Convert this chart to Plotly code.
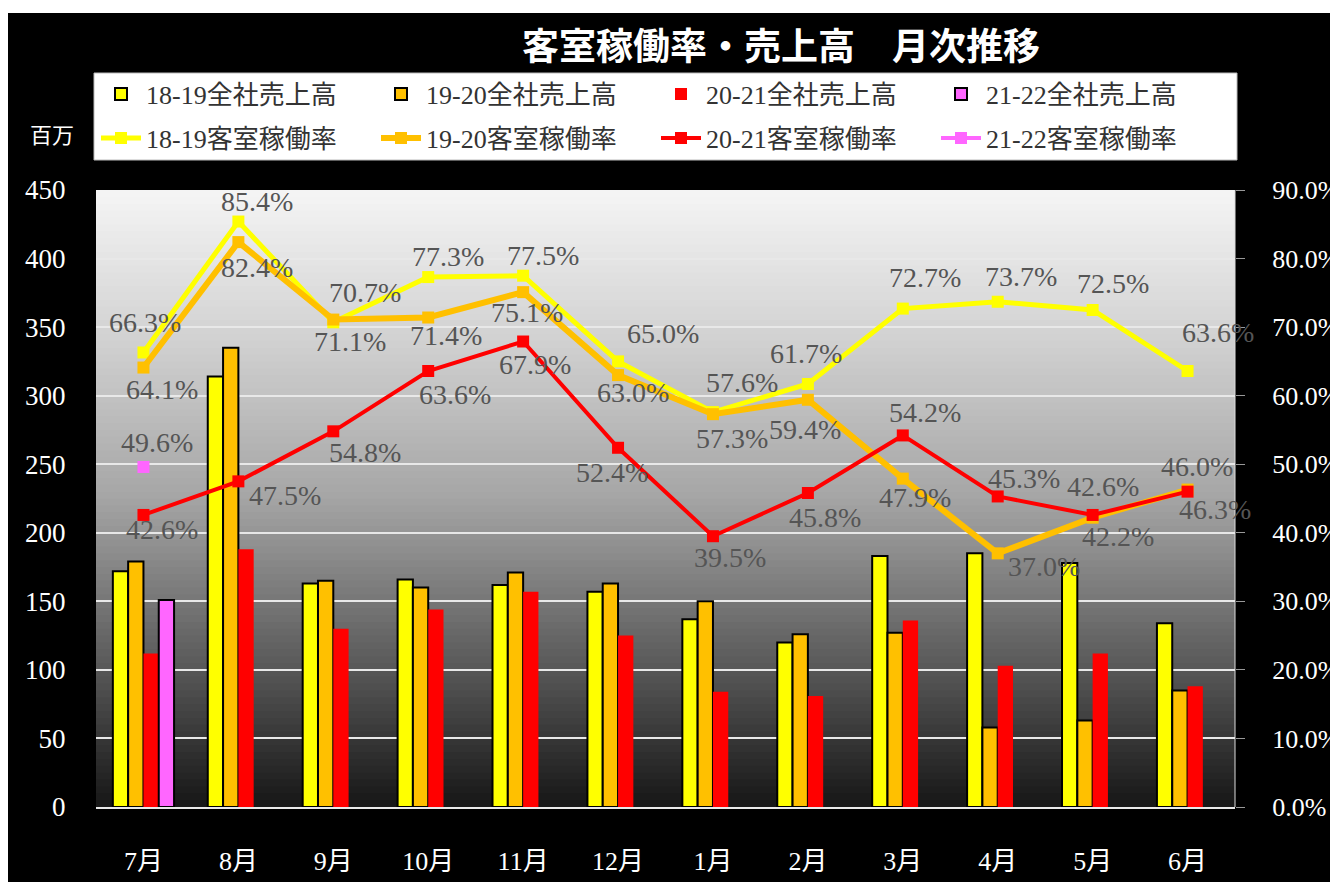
import plotly.graph_objects as go

months = ["7月", "8月", "9月", "10月", "11月", "12月", "1月", "2月", "3月", "4月", "5月", "6月"]

# 全社売上高 (百万)
sales_1819 = [172, 314, 163, 166, 162, 157, 137, 120, 183, 185, 178, 134]
sales_1920 = [179, 335, 165, 160, 171, 163, 150, 126, 127, 58, 63, 85]
sales_2021 = [112, 188, 130, 144, 157, 125, 84, 81, 136, 103, 112, 88]
sales_2122 = [151, None, None, None, None, None, None, None, None, None, None, None]

# 客室稼働率 (%)
occ_1819 = [66.3, 85.4, 70.7, 77.3, 77.5, 65.0, 57.6, 61.7, 72.7, 73.7, 72.5, 63.6]
occ_1920 = [64.1, 82.4, 71.1, 71.4, 75.1, 63.0, 57.3, 59.4, 47.9, 37.0, 42.2, 46.3]
occ_2021 = [42.6, 47.5, 54.8, 63.6, 67.9, 52.4, 39.5, 45.8, 54.2, 45.3, 42.6, 46.0]
occ_2122 = [49.6, None, None, None, None, None, None, None, None, None, None, None]

left_ticks = [0, 50, 100, 150, 200, 250, 300, 350, 400, 450]
right_ticks = [0, 10, 20, 30, 40, 50, 60, 70, 80, 90]
right_labels = ["0.0%", "10.0%", "20.0%", "30.0%", "40.0%", "50.0%", "60.0%", "70.0%", "80.0%", "90.0%"]

# data-label offsets from their points (px: right, down) — style only
off_1819 = [(2, -30), (19, -20), (32, -30), (20, -21), (20, -20), (45, -28),
            (29, -30), (-2, -31), (22, -31), (23, -25), (20, -26), (30, -38)]
off_1920 = [(19, 22), (19, 25), (17, 22), (18, 18), (4, 20), (15, 17),
            (19, 24), (-3, 30), (12, 19), (46, 13), (25, 19), (27, 20)]
off_2021 = [(19, 15), (47, 14), (32, 21), (27, 24), (12, 23), (-6, 25),
            (17, 21), (17, 24), (22, -23), (26, -18), (10, -28), (9, -25)]
off_2122 = [(14, -24)] + [(0, 0)] * 11

FONT = "Liberation Serif, Noto Sans CJK JP, serif"
LBL = dict(family=FONT, size=28, color="#555555")

YEL, ORG, RED, PNK = "#ffff00", "#ffc000", "#ff0000", "#ff66ff"

# layout geometry (figure px; page body adds an 8px offset)
OFF = 8
W, H = 1338 - OFF, 882 - OFF
ML, MR, MT, MB = 96 - OFF, 103, 190 - OFF, 75
PW, PH = W - ML - MR, H - MT - MB

def py(ys):  # screen y -> paper y
    return 1 + (MT - (ys - OFF)) / PH

def px(xs):  # screen x -> paper x
    return ((xs - OFF) - ML) / PW

fig = go.Figure()

fig.add_bar(x=months, y=sales_1819, name="18-19全社売上高", legend="legend",
            marker=dict(color=YEL, line=dict(color="black", width=2)))
fig.add_bar(x=months, y=sales_1920, name="19-20全社売上高", legend="legend",
            marker=dict(color=ORG, line=dict(color="black", width=2)))
fig.add_bar(x=months, y=sales_2021, name="20-21全社売上高", legend="legend",
            marker=dict(color=RED, line=dict(color=RED, width=0)))
fig.add_bar(x=months, y=sales_2122, name="21-22全社売上高", legend="legend",
            marker=dict(color=PNK, line=dict(color="black", width=2)))

annotations = []

def line(y, name, color, width, offs):
    fig.add_scatter(x=months, y=y, name=name, yaxis="y2", legend="legend2",
                    mode="lines+markers",
                    line=dict(color=color, width=width),
                    marker=dict(symbol="square", size=12, color=color),
                    cliponaxis=False)
    for m, v, (dx, dy) in zip(months, y, offs):
        if v is None:
            continue
        annotations.append(dict(x=m, y=v, xref="x", yref="y2", text=f"{v:.1f}%",
                                showarrow=False, xanchor="center", yanchor="middle",
                                xshift=dx, yshift=-dy, font=LBL))

line(occ_1819, "18-19客室稼働率", YEL, 5, off_1819)
line(occ_1920, "19-20客室稼働率", ORG, 6, off_1920)
line(occ_2021, "20-21客室稼働率", RED, 4, off_2021)
line(occ_2122, "21-22客室稼働率", PNK, 4, off_2122)

# vertical gradient background of plot area
stops = [(0.0, 245), (0.25, 208), (0.5, 165), (0.75, 95), (1.0, 22)]
def shade(t):
    for (a, ca), (b, cb) in zip(stops[:-1], stops[1:]):
        if a <= t <= b:
            return ca + (cb - ca) * (t - a) / (b - a)
    return stops[-1][1]
N = 90
shapes = []
for i in range(N):
    t = (i + 0.5) / N
    g = int(round(shade(t)))
    shapes.append(dict(type="rect", xref="paper", yref="paper",
                       x0=0, x1=1, y0=max(0, 1 - (i + 1.8) / N), y1=1 - i / N,
                       fillcolor=f"rgb({g},{g},{g})", line=dict(width=0),
                       layer="below"))
# light border on the right edge of the plot area
shapes.append(dict(type="line", xref="paper", yref="paper", x0=1, x1=1, y0=0, y1=1,
                   line=dict(color="#dddddd", width=1), layer="below"))
# white legend box
shapes.append(dict(type="rect", xref="paper", yref="paper",
                   x0=px(94), x1=px(1237), y0=py(160), y1=py(73),
                   fillcolor="white", line=dict(color="#bbbbbb", width=1), layer="below"))
# thin white strip at the very top, as in the reference
shapes.append(dict(type="rect", xref="paper", yref="paper",
                   x0=px(0), x1=px(1338), y0=py(13), y1=py(0),
                   fillcolor="white", line=dict(width=0), layer="below"))

LEG = dict(orientation="h", x=px(96), xanchor="left", yanchor="middle",
           bgcolor="rgba(0,0,0,0)", borderwidth=0,
           font=dict(family=FONT, size=26, color="#333333"),
           entrywidth=225, itemwidth=40, traceorder="normal")

annotations.append(dict(text="百万", xref="paper", yref="paper", x=px(52), y=py(133),
                        xanchor="center", yanchor="middle", showarrow=False,
                        font=dict(family="Noto Sans CJK JP, sans-serif", size=22, color="white")))

fig.update_layout(
    width=W, height=H,
    paper_bgcolor="black", plot_bgcolor="rgba(0,0,0,0)",
    margin=dict(l=ML, r=MR, t=MT, b=MB, autoexpand=False),
    barmode="group", bargap=0.355, bargroupgap=0,
    font=dict(family=FONT, color="white"),
    shapes=shapes,
    title=dict(text="<b>客室稼働率・売上高　月次推移</b>", x=(781 - OFF) / W, xref="container",
               xanchor="center", y=1 - (47 - OFF) / H, yanchor="middle",
               font=dict(family="Noto Sans CJK JP, sans-serif", size=37, color="white")),
    legend=dict(LEG, y=py(94)),
    legend2=dict(LEG, y=py(138)),
    xaxis=dict(range=[-0.5, 11.5], autorange=False,
               showgrid=False, showline=True, linecolor="#e8e8e8", linewidth=2,
               ticks="outside", ticklen=30, tickcolor="rgba(0,0,0,0)",
               tickfont=dict(family=FONT, size=26, color="white")),
    yaxis=dict(range=[0, 450], tickvals=left_ticks, showgrid=True, gridcolor="#e8e8e8",
               gridwidth=2, zeroline=False, ticks="outside", ticklen=24,
               tickcolor="rgba(0,0,0,0)",
               tickfont=dict(family=FONT, size=27, color="white")),
    yaxis2=dict(range=[0, 90], tickvals=right_ticks, ticktext=right_labels,
                overlaying="y", side="right",
                showgrid=False, zeroline=False, ticks="outside", ticklen=9,
                tickcolor="#999999", ticklabelstandoff=22,
                tickfont=dict(family=FONT, size=26, color="white")),
    annotations=annotations,
)

fig.write_html("out.html")
